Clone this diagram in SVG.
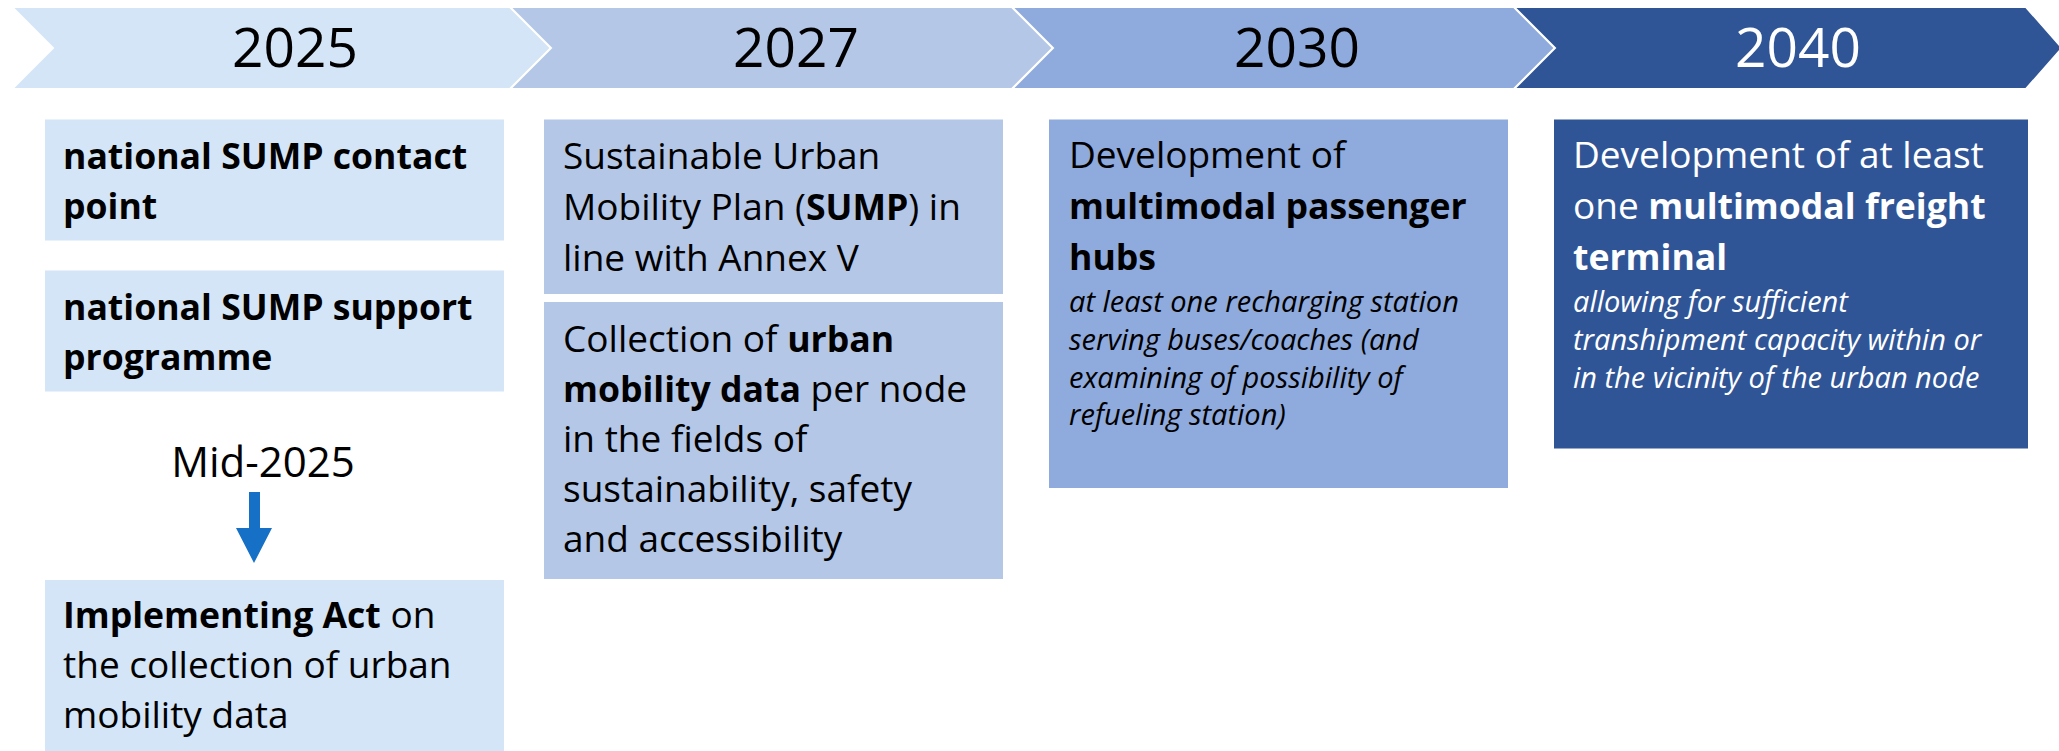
<svg xmlns="http://www.w3.org/2000/svg" width="2059" height="751" viewBox="0 0 2059 751">
<style>
text{font-family:'Open Sans','Noto Sans',sans-serif;}
.yr{font-size:55px;text-anchor:middle;}
.t{font-size:37px;fill:#000;}
.w{fill:#fff;}
.b{font-weight:bold;font-size:35.6px;}
.it{font-size:29px;font-style:italic;}
.chev{stroke:#fff;stroke-width:2;}
.c1{fill:#D3E5F7;}
.c2{fill:#B4C7E7;}
.c3{fill:#8FAADC;}
.c4{fill:#2F5597;}
</style>
<rect width="2059" height="751" fill="#fff"/>
<g id="chevron-2025">
<polygon class="chev c1" points="12,7 510,7 551,48 510,89 12,89 53,48"/>
<text class="yr" x="295" y="67">2025</text>
</g>
<g id="chevron-2027">
<polygon class="chev c2" points="510,7 1012,7 1053,48 1012,89 510,89 551,48"/>
<text class="yr" x="796" y="67">2027</text>
</g>
<g id="chevron-2030">
<polygon class="chev c3" points="1012,7 1514,7 1555,48 1514,89 1012,89 1053,48"/>
<text class="yr" x="1297" y="67">2030</text>
</g>
<g id="chevron-2040">
<polygon class="chev c4" points="1514,7 2026,7 2062,48 2026,89 1514,89 1555,48"/>
<text class="yr w" x="1798" y="67">2040</text>
</g>

<g id="sump-contact-point">
<rect class="c1" x="45" y="119.5" width="459" height="121"/>
<text class="t b" x="63" y="169">national SUMP contact</text>
<text class="t b" x="63" y="219">point</text>
</g>
<g id="sump-support-programme">
<rect class="c1" x="45" y="270.5" width="459" height="121"/>
<text class="t b" x="63" y="320">national SUMP support</text>
<text class="t b" x="63" y="370">programme</text>
</g>
<g id="mid-2025">
<text x="263" y="477" style="font-size:42px;text-anchor:middle">Mid-2025</text>
</g>
<g id="implementing-act">
<rect class="c1" x="45" y="580" width="459" height="171"/>
<text class="t" x="63" y="628"><tspan class="b">Implementing Act</tspan> on</text>
<text class="t" x="63" y="678">the collection of urban</text>
<text class="t" x="63" y="728">mobility data</text>
</g>

<g id="sump-plan">
<rect class="c2" x="544" y="119.5" width="459" height="174.5"/>
<text class="t" x="563" y="169">Sustainable Urban</text>
<text class="t" x="563" y="220">Mobility Plan (<tspan class="b">SUMP</tspan>) in</text>
<text class="t" x="563" y="271">line with Annex V</text>
</g>
<g id="urban-mobility-data">
<rect class="c2" x="544" y="302" width="459" height="277"/>
<text class="t" x="563" y="352">Collection of <tspan class="b">urban</tspan></text>
<text class="t" x="563" y="402"><tspan class="b">mobility data</tspan> per node</text>
<text class="t" x="563" y="452">in the fields of</text>
<text class="t" x="563" y="502">sustainability, safety</text>
<text class="t" x="563" y="552">and accessibility</text>
</g>

<g id="passenger-hubs">
<rect class="c3" x="1049" y="119.5" width="459" height="368.5"/>
<text class="t" x="1069" y="168">Development of</text>
<text class="t b" x="1069" y="219">multimodal passenger</text>
<text class="t b" x="1069" y="270">hubs</text>
<text class="t it" x="1069" y="312">at least one recharging station</text>
<text class="t it" x="1069" y="350">serving buses/coaches (and</text>
<text class="t it" x="1069" y="387.5">examining of possibility of</text>
<text class="t it" x="1069" y="425">refueling station)</text>
</g>

<g id="freight-terminal">
<rect class="c4" x="1554" y="119.5" width="474" height="329"/>
<text class="t w" x="1573" y="168">Development of at least</text>
<text class="t w" x="1573" y="219">one <tspan class="b">multimodal freight</tspan></text>
<text class="t w b" x="1573" y="270">terminal</text>
<text class="t w it" x="1573" y="312">allowing for sufficient</text>
<text class="t w it" x="1573" y="350">transhipment capacity within or</text>
<text class="t w it" x="1573" y="388">in the vicinity of the urban node</text>
</g>

<g id="connectors">
<polygon fill="#1570C6" points="249,492 260,492 260,528 272,528 254,563 236,528 249,528"/>
</g>
</svg>
